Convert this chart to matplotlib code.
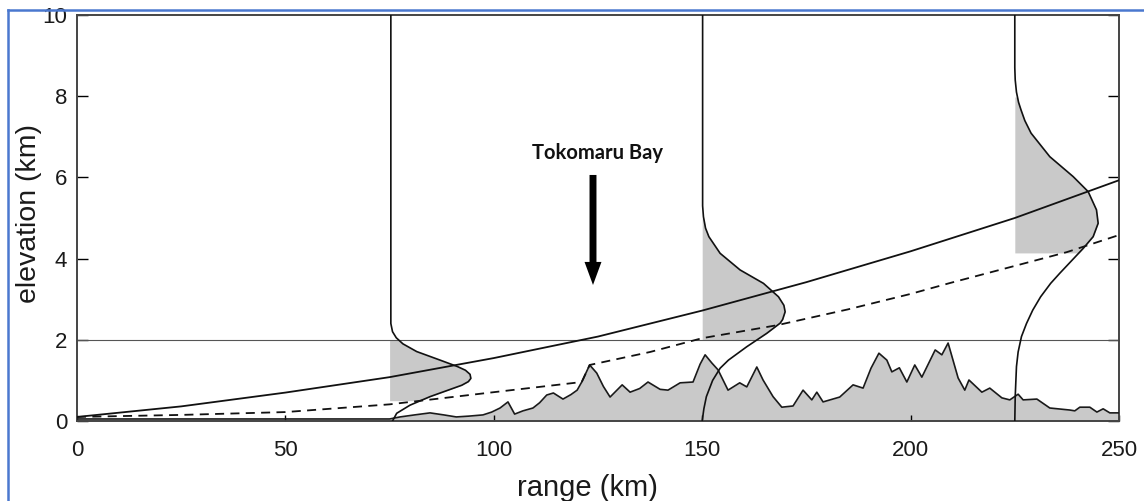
import numpy as np
import matplotlib
matplotlib.use("Agg")
import matplotlib.pyplot as plt
from matplotlib.lines import Line2D

plt.rcParams['font.family'] = ['Liberation Sans', 'DejaVu Sans']

## terrain profile (range km, elevation km)
terrain_r = [0, 25, 50, 75, 77.5, 81, 84.7, 88, 91, 94, 97.4, 99.5, 101.5, 103.4, 105, 107, 109.4,
             111, 112.7, 114.3, 116.6, 118.5, 120, 121.1, 123, 124.7, 126.3, 127.9, 130.8, 132.7,
             135, 137, 139.9, 141.8, 144.7, 147.8, 149.5, 150.7, 152.3, 153.8, 156.2, 159, 160.7,
             163.1, 164.6, 167, 169.1, 171.8, 174.2, 176.3, 177.5, 179, 183, 186.2, 188.6, 190.5,
             192.4, 194.3, 195.5, 197.3, 199.1, 201, 202.7, 205.9, 207.5, 209, 211.4, 213, 214,
             217.1, 219, 221.9, 223.8, 225.8, 227, 230.3, 233.4, 238.2, 239.4, 240.6, 243, 244.7,
             246.2, 247.8, 250]
terrain_h = [0.05, 0.05, 0.05, 0.05, 0.1, 0.15, 0.2, 0.15, 0.1, 0.12, 0.15, 0.22, 0.32, 0.47, 0.17,
             0.25, 0.32, 0.45, 0.64, 0.69, 0.54, 0.65, 0.76, 0.96, 1.38, 1.18, 0.85, 0.59, 0.89,
             0.71, 0.8, 0.96, 0.78, 0.76, 0.94, 0.96, 1.4, 1.63, 1.43, 1.26, 0.76, 0.94, 0.84, 1.33,
             1.01, 0.6, 0.34, 0.37, 0.76, 0.52, 0.71, 0.47, 0.59, 0.89, 0.81, 1.3, 1.67, 1.5, 1.21,
             1.31, 0.96, 1.38, 1.08, 1.75, 1.63, 1.92, 1.06, 0.76, 1.01, 0.71, 0.81, 0.57, 0.52,
             0.66, 0.52, 0.54, 0.32, 0.27, 0.25, 0.34, 0.34, 0.22, 0.3, 0.2, 0.2]

## beam centre (solid) and lowest ray (dashed)
beam_r = [0, 25, 50, 75, 100, 125, 150, 175, 200, 225, 250]
beam_h = [0.1, 0.36, 0.70, 1.08, 1.55, 2.08, 2.72, 3.42, 4.18, 5.0, 5.93]
low_r = [0, 25, 50, 75, 100, 121.1, 123, 137.5, 150, 168, 185, 200, 209.5, 225, 237.5, 250]
low_h = [0.1, 0.15, 0.22, 0.41, 0.71, 0.96, 1.38, 1.7, 2.04, 2.36, 2.75, 3.13, 3.4, 3.82, 4.16, 4.58]

## vertical beam power profiles (elevation km, range km)
p1_h = [10, 2.4, 2.2, 2.05, 1.9, 1.71, 1.5, 1.34, 1.25, 1.15, 1.05, 0.97, 0.88, 0.81, 0.6, 0.39, 0.19, 0.0]
p1_r = [75.3, 75.3, 75.7, 76.6, 78.2, 81.5, 87.1, 91.3, 93.2, 94.3, 94.5, 93.9, 92.3, 90.4, 84.7, 79.9, 76.7, 75.7]
p2_h = [10, 5.3, 5.03, 4.75, 4.54, 4.13, 3.72, 3.39, 3.06, 2.85, 2.69, 2.5, 2.41, 2.16, 1.83, 1.5, 1.3,
        1.0, 0.6, 0.3, 0.0]
p2_r = [150.1, 150.1, 150.3, 150.8, 151.6, 154.3, 159.1, 164.7, 168.3, 169.6, 169.9, 169.3, 168.7,
        165.5, 160.7, 156.3, 154.3, 152.5, 151.0, 150.4, 150.0]
p3_h = [10, 8.7, 8.4, 8.1, 7.85, 7.66, 7.4, 7.09, 6.51, 6.02, 5.65, 5.2, 4.87, 4.54, 4.25, 3.64, 3.39,
        3.06, 2.73, 2.4, 2.08, 1.7, 1.34, 0.6, 0.0]
p3_r = [225.0, 225.0, 225.1, 225.4, 225.9, 226.5, 227.4, 228.9, 233.4, 239.0, 242.6, 244.6, 245.0,
        243.8, 241.4, 235.8, 233.6, 231.2, 229.3, 227.8, 226.6, 225.8, 225.4, 225.1, 225.0]
profiles = [(p1_h, p1_r, 75, 0.5, 2.0), (p2_h, p2_r, 150, 2.0, 5.0), (p3_h, p3_r, 225, 4.14, 7.98)]

gray = '#c9c9c9'
fig = plt.figure(figsize=(11.44, 5.01), dpi=100)
ax = fig.add_axes([77/1144, 1-421/501, 1042/1144, 406/501])

# shaded parts of the beam profiles
for ph, pr, r0, lo, hi in profiles:
    hh = np.linspace(lo, hi, 120)
    rr = np.interp(hh, ph[::-1], pr[::-1])
    ax.fill_betweenx(hh, r0, rr, color=gray, lw=0, zorder=1)

ax.fill_between(terrain_r, 0, terrain_h, color=gray, lw=0, zorder=1)
ax.plot(terrain_r, terrain_h, color='#1a1a1a', lw=1.2, zorder=3)

ax.axhline(2, color='#555555', lw=0.8, zorder=2)
ax.plot(beam_r, beam_h, color='#111111', lw=1.3, zorder=3)
ax.plot(low_r, low_h, color='#111111', lw=1.3, ls=(0, (5, 3.5)), zorder=3)
for ph, pr, r0, lo, hi in profiles:
    ax.plot(pr, ph, color='#111111', lw=1.2, zorder=3)

ax.text(124.8, 6.6, 'Tokomaru Bay', fontsize=14.5, fontweight='bold', family=['Lato', 'DejaVu Sans'],
        ha='center', va='center', color='#111111')
ax.annotate('', xy=(123.8, 3.35), xytext=(123.8, 6.06),
            arrowprops=dict(arrowstyle='simple,head_width=1.22,head_length=1.66,tail_width=0.5',
                            mutation_scale=10, fc='black', ec='none', shrinkA=0, shrinkB=0))

ax.set_xlim(0, 250)
ax.set_ylim(0, 10)
ax.set_xticks([0, 50, 100, 150, 200, 250])
ax.set_yticks([0, 2, 4, 6, 8, 10])
ax.tick_params(axis='y', direction='in', length=8, width=1, right=True, labelsize=16, pad=7,
               labelcolor='#1a1a1a')
ax.tick_params(axis='x', direction='in', length=4, width=1, labelsize=16, pad=14,
               labelcolor='#1a1a1a')
for s in ax.spines.values():
    s.set_color('#444444')
    s.set_linewidth(1.4)

ax.set_ylabel('elevation (km)', fontsize=20.5, color='#1a1a1a')
ax.yaxis.set_label_coords(-0.034, 0.512)
ax.set_xlabel('range (km)', fontsize=21, color='#1a1a1a')
ax.xaxis.set_label_coords(0.49, -0.13)

# blue frame of the original slide
fig.add_artist(Line2D([8/1144, 8/1144], [0, 1-10/501], color='#4a78cf', lw=1.8))
fig.add_artist(Line2D([8/1144, 1], [1-10/501, 1-10/501], color='#4a78cf', lw=1.8))

fig.savefig('out.png', dpi=100)
